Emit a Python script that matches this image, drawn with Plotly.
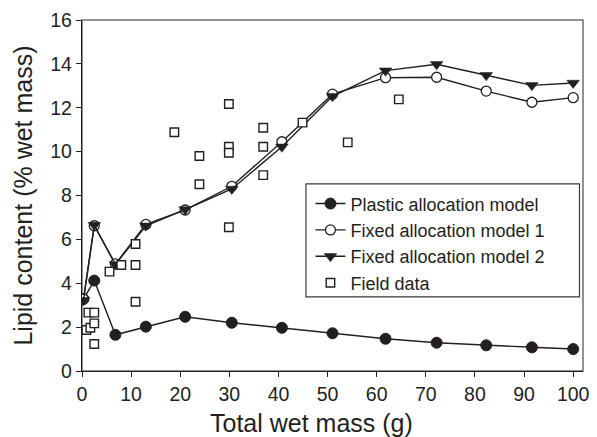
import plotly.graph_objects as go

# Model body masses (g) and predicted lipid content (% wet mass)
model_mass = [0.3, 2.5, 6.8, 13.0, 21.0, 30.5, 40.7, 51.0, 61.8, 72.2, 82.3, 91.6, 100.0]
plastic = [3.28, 4.12, 1.65, 2.02, 2.47, 2.20, 1.97, 1.72, 1.47, 1.29, 1.17, 1.08, 1.00]
fixed1 = [3.28, 6.62, 4.88, 6.68, 7.34, 8.42, 10.45, 12.62, 13.37, 13.39, 12.76, 12.25, 12.46]
fixed2 = [3.22, 6.65, 4.85, 6.62, 7.36, 8.30, 10.22, 12.52, 13.69, 13.98, 13.48, 13.02, 13.13]

# Field observations
field_mass = [0.9, 1.7, 1.3, 2.5, 2.5, 2.5, 5.6, 8.0, 10.9, 10.9, 10.9, 29.9,
              18.8, 23.9, 23.9, 29.9, 29.9, 29.9, 36.9, 36.9, 36.9, 44.9, 54.1, 64.5]
field_lipid = [1.87, 1.97, 2.66, 2.66, 2.17, 1.23, 4.53, 4.83, 4.83, 5.79, 3.16, 6.55,
               10.88, 9.80, 8.51, 12.17, 10.22, 9.95, 11.09, 10.22, 8.93, 11.32, 10.42, 12.38]

x_ticks = [0, 10, 20, 30, 40, 50, 60, 70, 80, 90, 100]
y_ticks = [0, 2, 4, 6, 8, 10, 12, 14, 16]

ink = "#231f20"
font_family = "Liberation Sans, Arial, sans-serif"

fig = go.Figure()
fig.add_trace(go.Scatter(
    x=model_mass, y=plastic, mode="lines+markers", name="Plastic allocation model",
    line=dict(color=ink, width=1.4),
    marker=dict(symbol="circle", size=11, color=ink, line=dict(color=ink, width=1)),
))
fig.add_trace(go.Scatter(
    x=model_mass, y=fixed1, mode="lines+markers", name="Fixed allocation model 1",
    line=dict(color=ink, width=1.4),
    marker=dict(symbol="circle", size=10, color="white", line=dict(color=ink, width=1.3)),
))
fig.add_trace(go.Scatter(
    x=model_mass, y=fixed2, mode="lines+markers", name="Fixed allocation model 2",
    line=dict(color=ink, width=1.4),
    marker=dict(symbol="triangle-down", size=11, color=ink, line=dict(color=ink, width=0.5)),
))
fig.add_trace(go.Scatter(
    x=field_mass, y=field_lipid, mode="markers", name="Field data",
    marker=dict(symbol="square", size=8.5, color="white", line=dict(color=ink, width=1.4)),
))

# Grey frame around the plotting area
fig.add_shape(type="rect", xref="paper", yref="paper", x0=0, x1=1, y0=0, y1=1,
              line=dict(color="#6d6d6d", width=1.5), layer="below")
# Legend box
fig.add_shape(type="rect", xref="paper", yref="paper",
              x0=0.447, x1=0.993, y0=0.211, y1=0.533,
              line=dict(color="#3a3a3a", width=1.2), fillcolor="white", layer="above")

# x-axis title
fig.add_annotation(text="Total wet mass (g)", xref="paper", yref="paper",
                   x=0.458, y=-0.148, xanchor="center", yanchor="middle",
                   showarrow=False, font=dict(size=25, family=font_family, color=ink))

fig.update_layout(
    width=597, height=437,
    margin=dict(l=82, r=14, t=20, b=66, autoexpand=False),
    paper_bgcolor="white", plot_bgcolor="white",
    font=dict(family=font_family, color=ink, size=19),
    showlegend=True,
    legend=dict(
        x=0.456, y=0.529, xanchor="left", yanchor="top",
        bgcolor="rgba(0,0,0,0)", borderwidth=0,
        font=dict(size=18, family=font_family, color=ink),
        tracegroupgap=0, itemwidth=30,
    ),
    xaxis=dict(
        range=[0, 102], tickvals=x_ticks, ticktext=[str(v) for v in x_ticks],
        showgrid=False, zeroline=False, showline=True, linecolor=ink, linewidth=1.3,
        ticks="outside", ticklen=5, tickcolor=ink, tickwidth=1.2,
        tickfont=dict(size=19.5), automargin=False,
    ),
    yaxis=dict(
        range=[0, 16], tickvals=y_ticks, ticktext=[str(v) for v in y_ticks],
        showgrid=False, zeroline=False, showline=True, linecolor=ink, linewidth=1.3,
        ticks="outside", ticklen=5, tickcolor=ink, tickwidth=1.2,
        tickfont=dict(size=19.5), automargin=False,
        title=dict(text="Lipid content (% wet mass)", font=dict(size=25), standoff=10),
    ),
)

fig.write_html("out.html")
